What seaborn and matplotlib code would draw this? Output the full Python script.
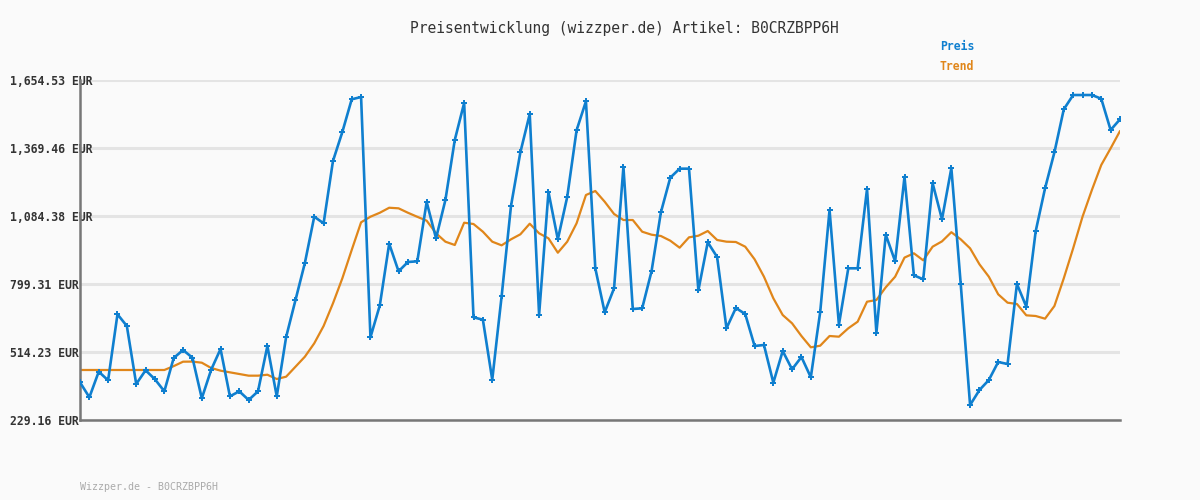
import numpy as np
import pandas as pd
import matplotlib
matplotlib.use("Agg")
import matplotlib.pyplot as plt
import seaborn as sns

# Preisverlauf (EUR)
preis = [
    387.2, 324.3, 431.7, 395.5, 672.3, 623.2, 380.1, 437.5, 399.8, 349.5,
    489.1, 522.6, 490.3, 320.1, 440.0, 526.8, 328.4, 349.5, 313.0, 349.5,
    539.4, 328.4, 577.1, 732.2, 887.3, 1081.4, 1053.7, 1315.0, 1436.6, 1573.6,
    1583.2, 575.9, 710.0, 968.3, 852.6, 891.5, 894.4, 1143.0, 990.8, 1151.5,
    1403.0, 1558.1, 659.6, 649.6, 398.1, 747.6, 1126.3, 1351.4, 1512.0, 670.6,
    1185.0, 986.6, 1164.0, 1443.6, 1565.2, 865.1, 680.6, 781.2, 1289.8, 694.5,
    697.4, 852.6, 1099.9, 1245.0, 1282.8, 1282.8, 772.8, 974.1, 912.5, 613.6,
    698.7, 673.5, 539.4, 543.6, 385.5, 518.4, 441.7, 493.3, 408.2, 680.6,
    1109.5, 628.8, 865.1, 865.1, 1197.5, 595.2, 1006.0, 894.4, 1248.5, 835.8,
    819.0, 1222.0, 1070.6, 1285.0, 799.3, 292.0, 354.9, 396.8, 472.3, 463.9,
    799.3, 704.3, 1020.2, 1200.5, 1351.4, 1531.6, 1591.6, 1591.6, 1591.6, 1576.1,
    1444.9, 1489.8,
]

# Trend (gleitender Durchschnitt)
trend = [
    438.8, 438.8, 438.8, 438.8, 438.8, 438.8, 438.8, 438.8, 438.8, 438.8,
    455.0, 473.6, 474.0, 469.4, 447.2, 436.0, 429.0, 422.0, 415.0, 415.0,
    419.0, 401.0, 410.7, 452.6, 494.5, 550.5, 623.2, 718.3, 823.2, 941.9,
    1058.0, 1081.4, 1098.0, 1119.0, 1116.6, 1098.0, 1081.0, 1064.7, 1011.8, 976.7,
    962.8, 1056.3, 1050.8, 1018.6, 976.7, 961.4, 986.6, 1007.6, 1052.1, 1011.8,
    990.8, 930.5, 976.7, 1053.7, 1172.4, 1189.2, 1144.3, 1092.8, 1067.6, 1067.6,
    1018.6, 1006.0, 1000.5, 980.9, 951.5, 995.0, 1001.8, 1021.5, 983.8, 976.7,
    975.4, 955.7, 902.9, 829.9, 739.4, 669.3, 634.5, 581.3, 533.9, 540.6,
    581.3, 578.4, 613.6, 641.3, 725.1, 732.2, 785.5, 829.9, 910.0, 928.0,
    898.5, 955.7, 978.0, 1016.5, 986.6, 948.9, 881.9, 829.9, 756.1, 721.0,
    715.5, 668.0, 665.2, 653.9, 707.1, 823.2, 948.9, 1081.4, 1193.4, 1298.3,
    1368.1, 1440.6,
]

y_ticks = [229.16, 514.23, 799.31, 1084.38, 1369.46, 1654.53]
y_labels = ["229.16 EUR", "514.23 EUR", "799.31 EUR",
            "1,084.38 EUR", "1,369.46 EUR", "1,654.53 EUR"]

blau = "#0f7fcf"
orange = "#e0861a"
bg = "#fafafa"

df = pd.DataFrame({"idx": np.arange(len(preis)), "preis": preis, "trend": trend})

sns.set_style("white")
plt.rcParams["font.family"] = ["DejaVu Sans Mono", "DejaVu Sans"]

fig = plt.figure(figsize=(12, 5), dpi=100, facecolor=bg)
ax = fig.add_axes([80 / 1200, 80 / 500, 1040 / 1200, 340 / 500])
ax.set_facecolor(bg)

for v in y_ticks:
    ax.axhline(v, color="#e4e4e4", lw=2.2, zorder=0)

sns.lineplot(data=df, x="idx", y="trend", ax=ax, color=orange, lw=1.6, zorder=2)
sns.lineplot(data=df, x="idx", y="preis", ax=ax, color=blau, lw=1.9,
             marker="P", markersize=4.5, markeredgewidth=0, zorder=3)

ax.set_xlim(0, len(preis) - 1)
ax.set_ylim(y_ticks[0], y_ticks[-1])
ax.set_xticks([])
ax.set_yticks(y_ticks)
ax.set_yticklabels(y_labels, fontsize=8.3, fontweight="bold", color="#333333")
ax.tick_params(axis="y", length=0, pad=0)
for lbl in ax.get_yticklabels():
    lbl.set_horizontalalignment("left")
    lbl.set_x(-70 / 1040)
ax.set_xlabel("")
ax.set_ylabel("")

for s in ["top", "right"]:
    ax.spines[s].set_visible(False)
for s in ["left", "bottom"]:
    ax.spines[s].set_color("#777777")
    ax.spines[s].set_linewidth(1.8)

fig.text(624 / 1200, 1 - 28 / 500, "Preisentwicklung (wizzper.de) Artikel: B0CRZBPP6H",
         ha="center", va="center", fontsize=10.5, color="#333333")
fig.text(940 / 1200, 1 - 47 / 500, "Preis", ha="left", va="center",
         fontsize=8.3, fontweight="bold", color=blau)
fig.text(940 / 1200, 1 - 67 / 500, "Trend", ha="left", va="center",
         fontsize=8.3, fontweight="bold", color=orange)
fig.text(80 / 1200, 1 - 487 / 500, "Wizzper.de - B0CRZBPP6H", ha="left", va="center",
         fontsize=7.2, color="#aaaaaa")

fig.savefig("out.png", dpi=100, facecolor=bg)
